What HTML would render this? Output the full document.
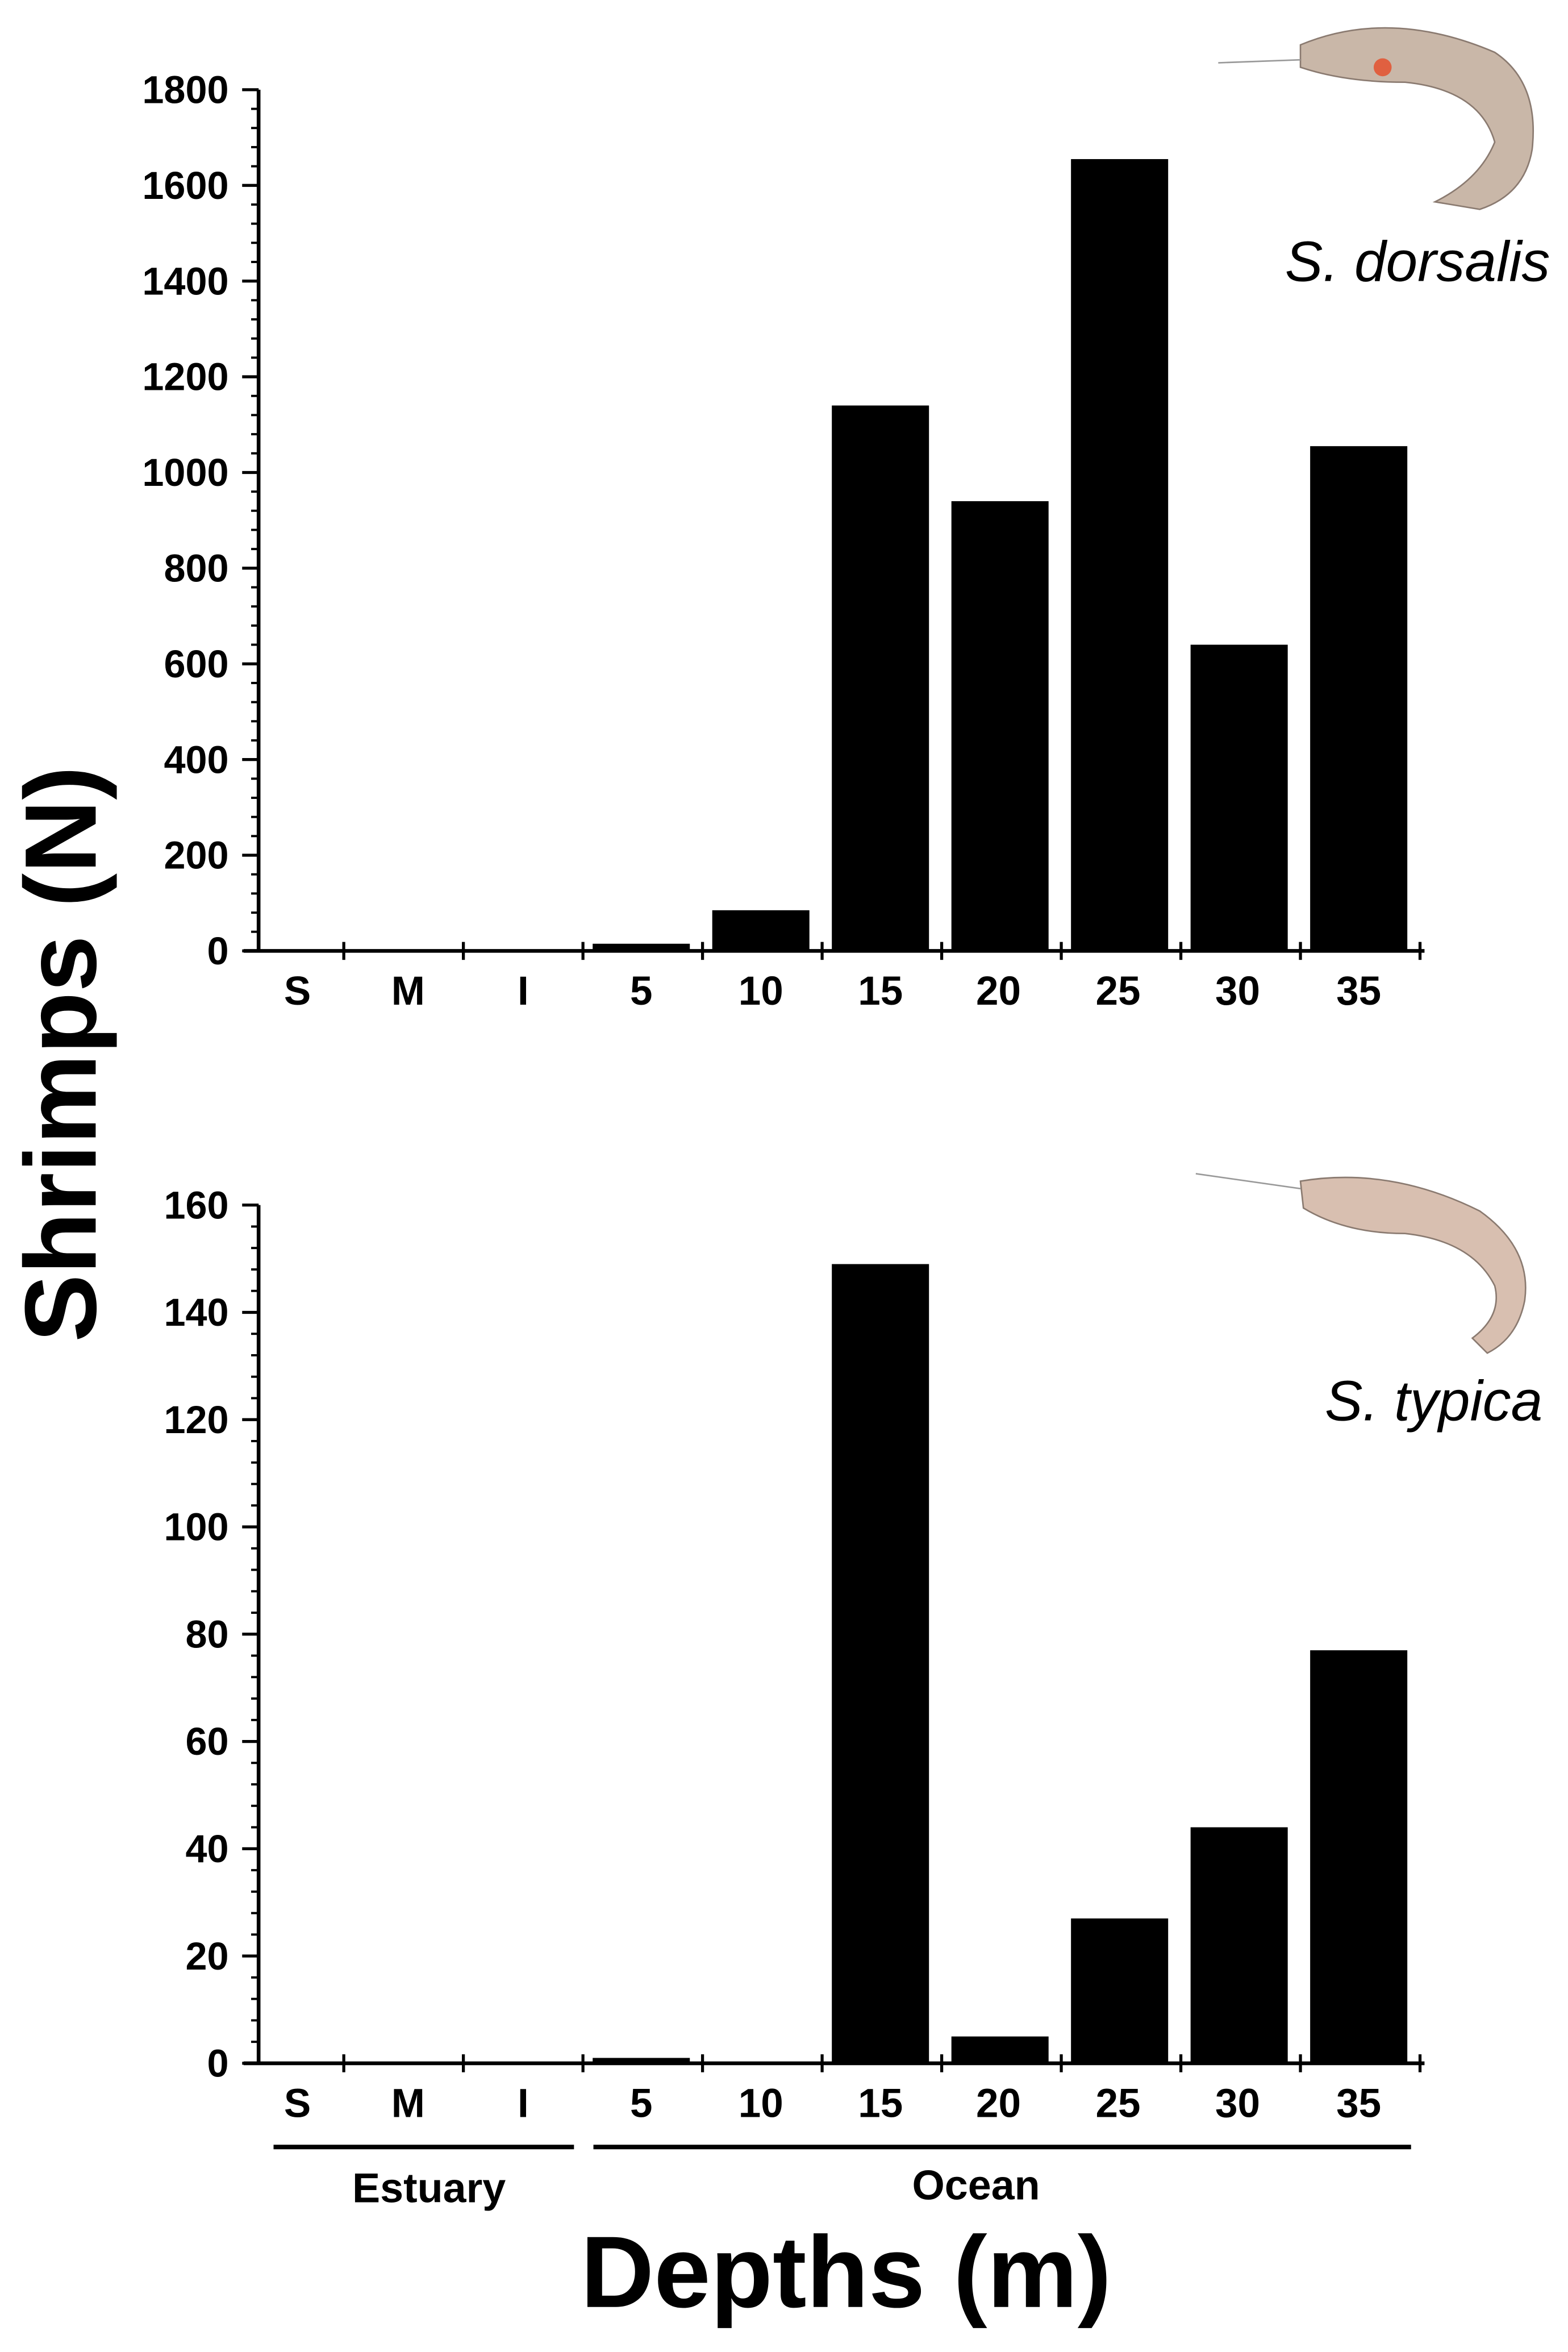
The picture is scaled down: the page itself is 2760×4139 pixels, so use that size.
<!DOCTYPE html>
<html><head><meta charset="utf-8"><style>
html,body{margin:0;padding:0;background:#fff;}
svg{display:block;}
text{font-family:"Liberation Sans",sans-serif;}
</style></head><body>
<svg id="chart" xmlns="http://www.w3.org/2000/svg" width="2760" height="4139" viewBox="0 0 1049 1573.1">
<rect width="1049" height="1573.1" fill="#fff"/>
<g id="top"></g>
<g id="bottom"></g>
<g fill="#c9b7a8" stroke="#8a7a70" stroke-width="1">
<path d="M870 30 Q930 5 1000 35 Q1030 55 1025 100 Q1020 130 990 140 L960 135 Q990 120 1000 95 Q990 60 940 55 Q900 55 870 45Z"/>
<line x1="870" y1="40" x2="815" y2="42" stroke="#999"/>
<circle cx="925" cy="45" r="6" fill="#e06040" stroke="none"/>
</g>
<g fill="#d8bfb0" stroke="#8a7a70" stroke-width="1">
<path d="M870 790 Q930 780 990 810 Q1025 835 1020 870 Q1015 895 995 905 L985 895 Q1005 880 1000 860 Q985 830 940 825 Q900 825 872 808Z"/>
<line x1="870" y1="795" x2="800" y2="785" stroke="#999"/>
</g>
<text x="1037" y="188" text-anchor="end" font-size="38" font-style="italic">S. dorsalis</text>
<text x="1032" y="950" text-anchor="end" font-size="38" font-style="italic">S. typica</text>
<text transform="translate(64,705) rotate(-90)" text-anchor="middle" font-size="68" font-weight="bold">Shrimps (N)</text>
<text x="566" y="1543" text-anchor="middle" font-size="68" font-weight="bold">Depths (m)</text>
<line x1="183" y1="1436" x2="384" y2="1436" stroke="#000" stroke-width="3"/>
<line x1="397" y1="1436" x2="944" y2="1436" stroke="#000" stroke-width="3"/>
<text x="287" y="1473" text-anchor="middle" font-size="28" font-weight="bold">Estuary</text>
<text x="653" y="1471" text-anchor="middle" font-size="28" font-weight="bold">Ocean</text>
</svg>
<script>
const categories = ["S","M","I","5","10","15","20","25","30","35"];
const dorsalisValues = [0,0,0,15,85,1140,940,1655,640,1055];
const typicaValues = [0,0,0,1,0,149,5,27,44,77];
const dorsalisTicks = [0,200,400,600,800,1000,1200,1400,1600,1800];
const typicaTicks = [0,20,40,60,80,100,120,140,160];

const NS="http://www.w3.org/2000/svg";
function mk(tag,attrs,parent,txt){const e=document.createElementNS(NS,tag);for(const k in attrs)e.setAttribute(k,attrs[k]);if(txt!==undefined)e.textContent=txt;parent.appendChild(e);return e;}

function drawPanel(g, vals, ticks, yTop, yBot, minorStep, name){
  const x0=173, x1=953, step=80;
  const vmax=ticks[ticks.length-1];
  const y=v=>yBot-(v/vmax)*(yBot-yTop);
  const xc=i=>189+step*i;
  vals.forEach((v,i)=>{
    if(v<=0) return;
    const r=mk('rect',{x:xc(i)-32.5,y:y(v),width:65,height:yBot-y(v),fill:'#000'},g);
    
    
  });
  const ya=mk('line',{x1:x0,y1:yTop,x2:x0,y2:yBot,stroke:'#000','stroke-width':2.5},g);
  
  
  const xa=mk('line',{x1:x0-10,y1:yBot,x2:x1,y2:yBot,stroke:'#000','stroke-width':2.5},g);
  
  
  for(let v=0; v<=vmax+1e-9; v+=minorStep){
    mk('line',{x1:x0-5,y1:y(v),x2:x0,y2:y(v),stroke:'#000','stroke-width':1.5},g);
  }
  ticks.forEach(t=>{
    mk('line',{x1:x0-11,y1:y(t),x2:x0,y2:y(t),stroke:'#000','stroke-width':2},g);
    const tl=mk('text',{x:153,y:y(t)+9,'text-anchor':'end','font-size':26,'font-weight':'bold'},g,String(t));
    
    
  });
  categories.forEach((c,i)=>{
    const bx=230+step*i;
    mk('line',{x1:bx,y1:yBot-6,x2:bx,y2:yBot+6,stroke:'#000','stroke-width':2},g);
    const cx=199+ [0,74,151,230,310,390,469,549,629,710][i];
    const tl=mk('text',{x:cx,y:yBot+36,'text-anchor':'middle','font-size':27,'font-weight':'bold'},g,c);
    
    
  });
}
drawPanel(document.getElementById('top'), dorsalisValues, dorsalisTicks, 60, 636, 40, 'dorsalis');
drawPanel(document.getElementById('bottom'), typicaValues, typicaTicks, 806, 1380, 4, 'typica');
</script>
</body></html>
